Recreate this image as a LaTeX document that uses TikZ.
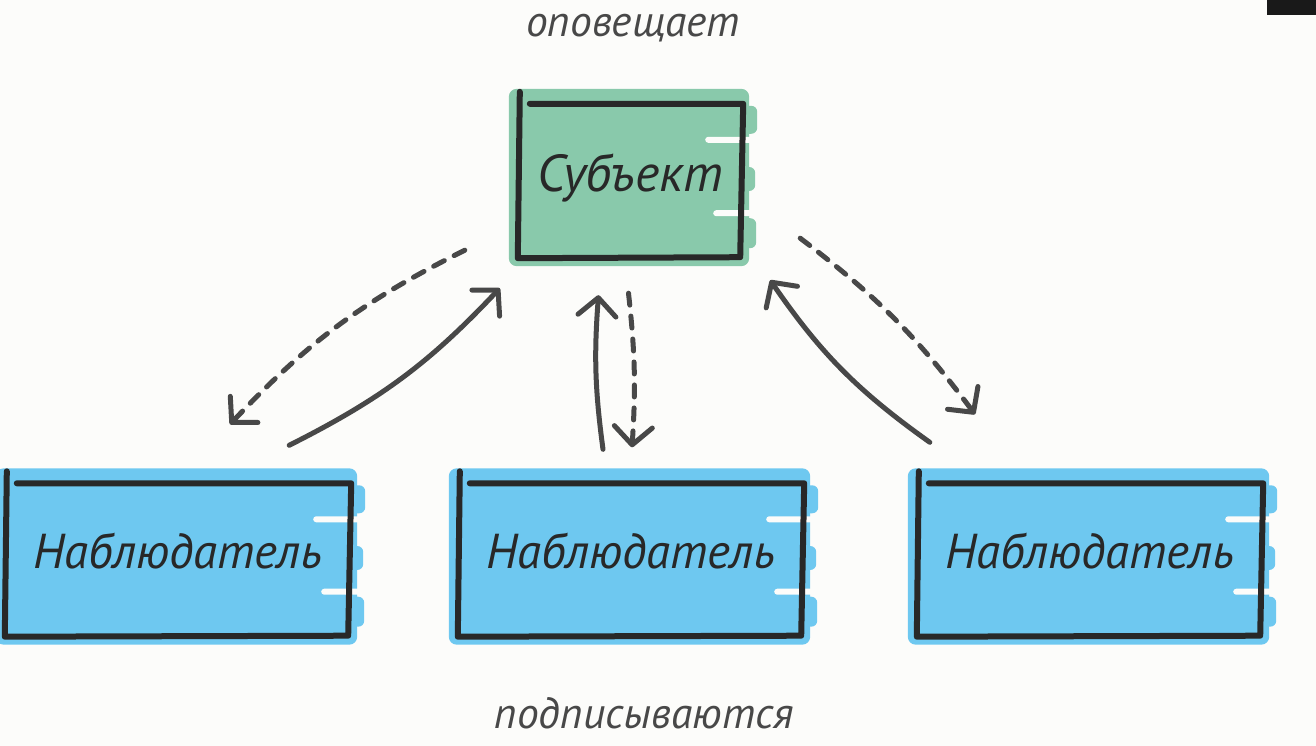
\documentclass[tikz,border=0pt]{standalone}
\usepackage{fontspec}
\setmainfont{PT Sans}
\usetikzlibrary{arrows.meta,calc,backgrounds}

\definecolor{paper}{RGB}{252,252,250}
\definecolor{subjgreen}{RGB}{137,201,171}
\definecolor{obsblue}{RGB}{110,200,240}
\definecolor{ink}{RGB}{40,40,40}
\definecolor{pencil}{RGB}{72,72,72}

% brush fill behind a box node, then its hand drawn frame
\newcommand\sketchbox[2]{%
  \begin{pgfonlayer}{background}
    \fill[#2,rounded corners=8pt] ($(#1.north west)+(-9,-11)$) rectangle ($(#1.south east)+(6,8)$);
    \fill[#2,rounded corners=6pt] ($(#1.north east)+(-4,6)$) rectangle ($(#1.north east)+(14,34)$);
    \fill[#2,rounded corners=6pt] ($(#1.east)+(-4,-12)$) rectangle ($(#1.east)+(12,12)$);
    \fill[#2,rounded corners=6pt] ($(#1.south east)+(-4,-40)$) rectangle ($(#1.south east)+(13,-10)$);
    \fill[paper,rounded corners=3pt] ($(#1.north east)+(-38,37)$) rectangle ($(#1.north east)+(16,43)$);
    \fill[paper,rounded corners=3pt] ($(#1.south east)+(-30,-48)$) rectangle ($(#1.south east)+(16,-42)$);
  \end{pgfonlayer}
  \draw[frame] ($(#1.north west)+(2,-8)$) -- (#1.south west) -- ($(#1.south east)+(-3,-1)$)
    -- ($(#1.north east)+(0,4)$) -- ($(#1.north west)+(12,4)$);
}

\begin{document}
\begin{tikzpicture}[x=1pt,y=-1pt,
    frame/.style={line width=6pt,ink,line cap=round,line join=round},
    obsbox/.style={minimum width=346,minimum height=157,inner sep=0,text=ink,
      text height=34pt,text depth=14pt,font=\fontsize{49}{54}\selectfont\itshape},
    subjbox/.style={obsbox,minimum width=225,minimum height=158,
      text height=36pt,text depth=10pt,font=\fontsize{52}{56}\selectfont\itshape},
    note/.style={text=pencil,font=\fontsize{43.5}{48}\selectfont\itshape},
    subscribe/.style={line width=5pt,pencil,line cap=round,
      -{Straight Barb[length=18pt,width=38pt,line width=5pt,round]}},
    notify/.style={subscribe,dash pattern=on 12pt off 11pt}]
  \begin{pgfonlayer}{background}
    \fill[paper] (0,0) rectangle (1316,746);
  \end{pgfonlayer}
  \useasboundingbox (0,0) rectangle (1316,746);
  \fill[black!90] (1267,0) rectangle (1316,15);

  \node[note] (tell) at (633,28) {оповещает};
  \node[note] (join) at (644,713) {подписываются};

  \node[subjbox] (subj) at (630.5,179) {Субъект};
  \node[obsbox] (obs1) at (178,558) {Наблюдатель};
  \node[obsbox] (obs2) at (631,558) {Наблюдатель};
  \node[obsbox] (obs3) at (1090,558) {Наблюдатель};

  \sketchbox{subj}{subjgreen}
  \foreach \o in {obs1,obs2,obs3}{
    \sketchbox{\o}{obsblue}
  }

  % observers subscribe
  \draw[subscribe] ($(obs1.north east)+(-62,-34)$) to[bend right=10] ($(subj.south west)+(-18,30)$);
  \draw[subscribe] ($(obs2.north)+(-28,-30)$) to[bend left=6] ($(subj.south)+(-32,37)$);
  \draw[subscribe] ($(obs3.north west)+(13,-37)$) to[bend left=10] ($(subj.south east)+(27,22)$);

  % subject notifies
  \draw[notify] ($(subj.south west)+(-53,-8)$) to[bend right=10] ($(obs1.north)+(52,-55)$);
  \draw[notify] ($(subj.south)+(-2,35)$) to[bend left=5] ($(obs2.north)+(1,-32)$);
  \draw[notify] ($(subj.south east)+(57,-20)$) to[bend left=8] ($(obs3.north)+(-115,-65)$);
\end{tikzpicture}
\end{document}
